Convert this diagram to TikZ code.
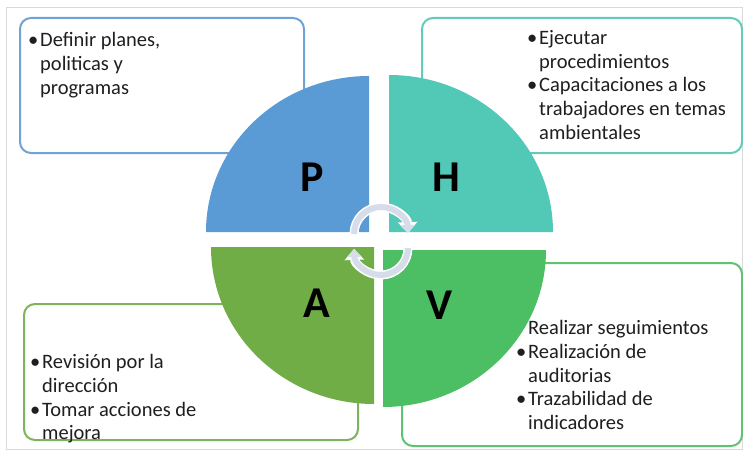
\documentclass[tikz,border=0pt]{standalone}
\usepackage{fontspec}
\setmainfont{Carlito}
\usetikzlibrary{arrows.meta}
\definecolor{pcol}{HTML}{5B9BD5}
\definecolor{hcol}{HTML}{52C8B6}
\definecolor{acol}{HTML}{70AD47}
\definecolor{vcol}{HTML}{4CBF65}
\definecolor{pline}{HTML}{6FA3D8}
\definecolor{hline}{HTML}{62CBBA}
\definecolor{aline}{HTML}{7DB35B}
\definecolor{vline}{HTML}{5DC373}
\definecolor{arrc}{HTML}{D6DCE9}
\definecolor{framec}{HTML}{D9D9D9}
\newcommand{\bul}{\makebox[14pt][c]{\textbullet}}
\newcommand{\ind}{\hspace*{14pt}}
\begin{document}
\begin{tikzpicture}[x=1pt,y=-1pt,
        tbox/.style={draw, line width=2pt, rounded corners=11pt, fill=white, anchor=north west, inner sep=0pt},
        txt/.style={anchor=north west, inner sep=0pt, align=left, font=\fontsize{20.5}{23.8}\selectfont, text=black!88},
        letter/.style={font=\fontsize{44}{44}\selectfont\bfseries, inner sep=0pt},
        cycw/.style={line width=9pt, white, -{Triangle[width=19pt,length=11pt]}},
        cyc/.style={line width=6pt, arrc, -{Triangle[width=14pt,length=8pt]}}]
        \useasboundingbox (0,0) rectangle (743,452);
        \draw[framec, line width=1pt] (6,8) rectangle (742,449);
        % cajas de texto
        \node[tbox, draw=pline, minimum width=284pt, minimum height=135pt] (pbox) at (19,17) {};
        \node[tbox, draw=hline, minimum width=320pt, minimum height=135pt] (hbox) at (421,17) {};
        \node[tbox, draw=aline, minimum width=334pt, minimum height=136pt] (abox) at (23,303) {};
        \node[tbox, draw=vline, minimum width=340pt, minimum height=183pt] (vbox) at (401,262) {};
        \node[txt] (ptxt) at ([shift={(7,15)}]pbox.north west) {\bul Definir planes,\\\ind politicas y\\\ind programas};
        \node[txt] (htxt) at ([shift={(104,13)}]hbox.north west) {\bul Ejecutar\\\ind procedimientos\\\bul Capacitaciones a los\\\ind trabajadores en temas\\\ind ambientales};
        \node[txt] (atxt) at ([shift={(5,51)}]abox.north west) {\bul Revisión por la\\\ind dirección\\\bul Tomar acciones de\\\ind mejora};
        \node[txt] (vtxt) at ([shift={(113,58)}]vbox.north west) {\ind Realizar seguimientos\\\bul Realización de\\\ind auditorias\\\bul Trazabilidad de\\\ind indicadores};
        % circulo PHVA
        \fill[pcol] (369,232) -- ++(-163,0) arc[start angle=180, end angle=270, x radius=163, y radius=156] -- cycle;
        \fill[hcol] (389,232) -- ++(0,-157) arc[start angle=270, end angle=360, x radius=164, y radius=157] -- cycle;
        \fill[acol] (374,247) -- ++(0,157) arc[start angle=90, end angle=180, x radius=163, y radius=157] -- cycle;
        \fill[vcol] (383,250) -- ++(163,0) arc[start angle=0, end angle=90, x radius=163, y radius=157] -- cycle;
        \node[letter] (p) at (312,177) {P};
        \node[letter] (h) at (446,177) {H};
        \node[letter] (a) at (317,303) {A};
        \node[letter] (v) at (440,305) {V};
        \draw[cycw] (354,234) arc[start angle=180, end angle=358, radius=27];
        \draw[cycw] (408,248) arc[start angle=0, end angle=178, radius=27];
        \draw[cyc] (354,234) arc[start angle=180, end angle=358, radius=27];
        \draw[cyc] (408,248) arc[start angle=0, end angle=178, radius=27];
    \end{tikzpicture}
\end{document}
